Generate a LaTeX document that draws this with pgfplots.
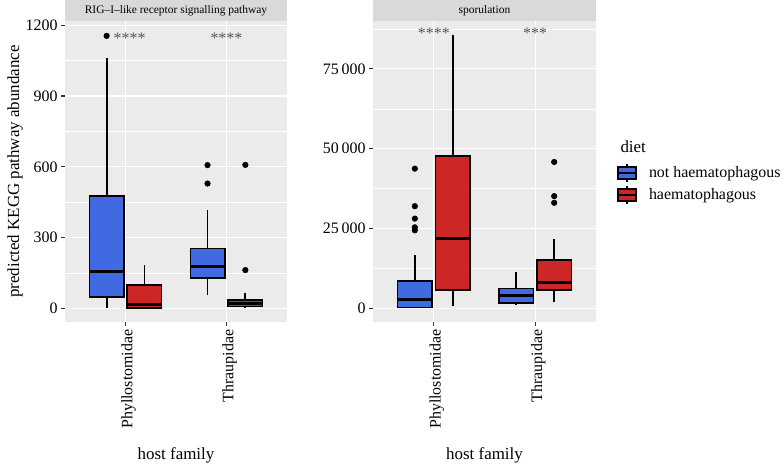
\documentclass[border=0pt]{standalone}
\usepackage{fontspec}
\setmainfont{Liberation Serif}
\usepackage{pgfplots}
\pgfplotsset{compat=1.18}
\usepgfplotslibrary{statistics}
\definecolor{nhblue}{HTML}{4169E1}
\definecolor{hred}{HTML}{CD2626}
\definecolor{panelbg}{HTML}{EBEBEB}
\definecolor{stripbg}{HTML}{D9D9D9}
\definecolor{tickc}{HTML}{333333}
\definecolor{starc}{HTML}{555555}
\tikzset{stars/.style={font=\fontsize{16}{16}\selectfont, text=starc}}
\pgfplotsset{
  gg/.style={
    scale only axis, height=301bp,
    xmin=0.4, xmax=2.6,
    axis background/.style={fill=panelbg},
    axis line style={draw=none},
    xtick={1,2}, xticklabels={Phyllostomidae,Thraupidae},
    xtick pos=bottom, ytick pos=left,
    xmajorgrids, ymajorgrids, yminorgrids,
    major grid style={white, line width=1.1bp},
    minor grid style={white, line width=0.5bp},
    tick align=outside, major tick length=4bp, minor tick length=0pt,
    tick style={tickc, line width=1.2bp},
    tick label style={font=\fontsize{16}{19}\selectfont, text=black},
    x tick label style={rotate=90, anchor=east, yshift=-3bp},
    /pgf/number format/assume math mode=true,
    /pgf/number format/1000 sep={},
    scaled y ticks=false,
    xlabel={host family},
    xlabel style={font=\fontsize{17}{20}\selectfont, at={(rel axis cs:0.5,0)}, anchor=center, yshift=-133bp},
    boxplot/draw direction=y,
    clip=false,
  },
  bx/.style={forget plot, solid, draw=black, line width=1.7bp, fill=#1,
     boxplot/box extend=0.34, boxplot/whisker extend=0,
     boxplot/every median/.style={line width=3bp, draw=black},
     boxplot/every whisker/.style={line width=1.8bp, draw=black},
     boxplot/every box/.style={line width=1.7bp, draw=black, fill=#1},
     mark=*, mark size=2.8bp, mark options={fill=black, draw=black, solid, line width=0.5bp}},
  bxleg/.style={legend image code/.code={
     \draw[black, line width=1.5bp] (9bp,-9bp) -- (9bp,9bp);
     \filldraw[fill=#1, draw=black, line width=1.5bp] (0bp,-6bp) rectangle (18bp,6bp);
     \draw[black, line width=2bp] (0bp,0bp) -- (18bp,0bp);
  }},
}
\begin{document}
\begin{tikzpicture}
\path[use as bounding box] (0,0) rectangle (784bp,464bp);
% ---------- left panel ----------
\begin{axis}[gg, at={(65bp,142bp)}, anchor=south west, width=222bp,
  ymin=-58, ymax=1218,
  ytick={0,300,600,900,1200}, minor ytick={150,450,750,1050},
  ylabel={predicted KEGG pathway abundance},
  ylabel style={font=\fontsize{17}{20}\selectfont, at={(rel axis cs:0,0.5)}, anchor=center, yshift=50bp},
]
\addplot[bx=nhblue, boxplot prepared={draw position=0.8125,
  lower whisker=0, lower quartile=49, median=155, upper quartile=476, upper whisker=1063}]
  coordinates {(0,1155)};
\addplot[bx=hred, boxplot prepared={draw position=1.1875,
  lower whisker=0, lower quartile=2, median=18, upper quartile=99, upper whisker=183}]
  coordinates {};
\addplot[bx=nhblue, boxplot prepared={draw position=1.8125,
  lower whisker=56, lower quartile=130, median=176, upper quartile=254, upper whisker=416}]
  coordinates {(0,529) (0,607)};
\addplot[bx=hred, boxplot prepared={draw position=2.1875,
  lower whisker=0, lower quartile=8, median=20, upper quartile=35, upper whisker=66}]
  coordinates {(0,162) (0,608)};
\node[stars] at (axis cs:1.04,1145) {****};
\node[stars] at (axis cs:2,1145) {****};
\end{axis}
% ---------- right panel ----------
\begin{axis}[gg, at={(373bp,142bp)}, anchor=south west, width=223bp,
  ymin=-4285, ymax=89985,
  ytick={0,25000,50000,75000}, yticklabels={0,25\,000,50\,000,75\,000},
  minor ytick={12500,37500,62500,87500},
  legend style={at={(rel axis cs:1.08,0.535)}, anchor=north west, draw=none, fill=none,
    font=\fontsize{16}{19}\selectfont, row sep=2.5bp, column sep=10bp},
  legend cell align=left,
]
\addplot[bx=nhblue, boxplot prepared={draw position=0.8125,
  lower whisker=0, lower quartile=300, median=2830, upper quartile=8600, upper whisker=16780}]
  coordinates {(0,24430) (0,25370) (0,28100) (0,31980) (0,43750)};
\addplot[bx=hred, boxplot prepared={draw position=1.1875,
  lower whisker=820, lower quartile=5760, median=21720, upper quartile=47720, upper whisker=85700}]
  coordinates {};
\addplot[bx=nhblue, boxplot prepared={draw position=1.8125,
  lower whisker=1050, lower quartile=1760, median=3970, upper quartile=6170, upper whisker=11520}]
  coordinates {};
\addplot[bx=hred, boxplot prepared={draw position=2.1875,
  lower whisker=1890, lower quartile=5760, median=8180, upper quartile=15200, upper whisker=21720}]
  coordinates {(0,33050) (0,35130) (0,45830)};
\node[stars] at (axis cs:1,86000) {****};
\node[stars] at (axis cs:2,86000) {***};
\addlegendimage{bxleg=nhblue}
\addlegendentry{not haematophagous}
\addlegendimage{bxleg=hred}
\addlegendentry{haematophagous}
\end{axis}
% strips
\fill[stripbg] (65bp,443bp) rectangle (287bp,464bp);
\node[font=\fontsize{11.5}{12}\selectfont] at (176bp,453.5bp) {RIG--I--like receptor signalling pathway};
\fill[stripbg] (373bp,443bp) rectangle (596bp,464bp);
\node[font=\fontsize{11.5}{12}\selectfont] at (484.5bp,453.5bp) {sporulation};
\node[font=\fontsize{17}{20}\selectfont, anchor=base west] at (617bp,311.5bp) {diet};
\end{tikzpicture}
\end{document}
